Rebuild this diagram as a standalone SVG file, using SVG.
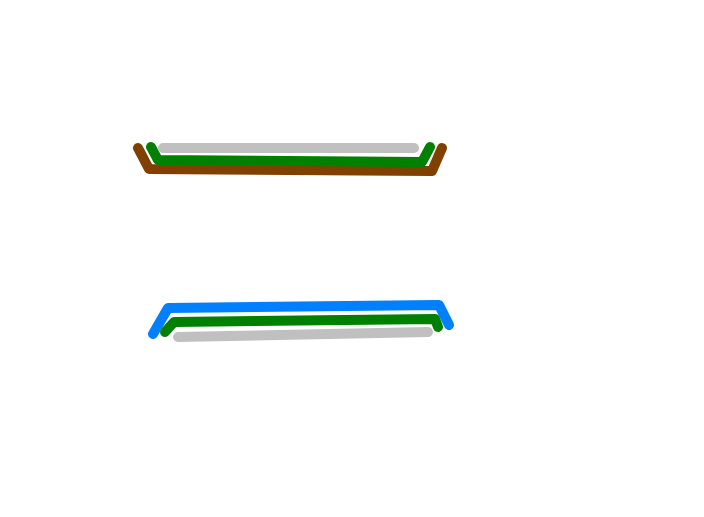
<svg xmlns="http://www.w3.org/2000/svg" width="704" height="517" viewBox="0 0 704 517">
<style>
.l{fill:none;stroke-linecap:round;stroke-linejoin:round;stroke-width:10}
.g{stroke:#c0c0c0}.gr{stroke:#008000}.b{stroke:#804000}.bl{stroke:#0080ff}
</style>
<rect width="704" height="517" fill="#fff"/>
<g id="connectors">
<polyline class="l b" points="138,148 149,169 432,171 442,148"/>
<polyline class="l gr" points="151,147 158,160 422,162 430,147"/>
<polyline class="l g" points="163,148 414,148"/>
<polyline class="l bl" points="153,334 168,308 439,305 449,325"/>
<polyline class="l gr" points="165,332 174,322 435,319 438,327"/>
<polyline class="l g" points="178,337 428,332"/>
</g>
</svg>
